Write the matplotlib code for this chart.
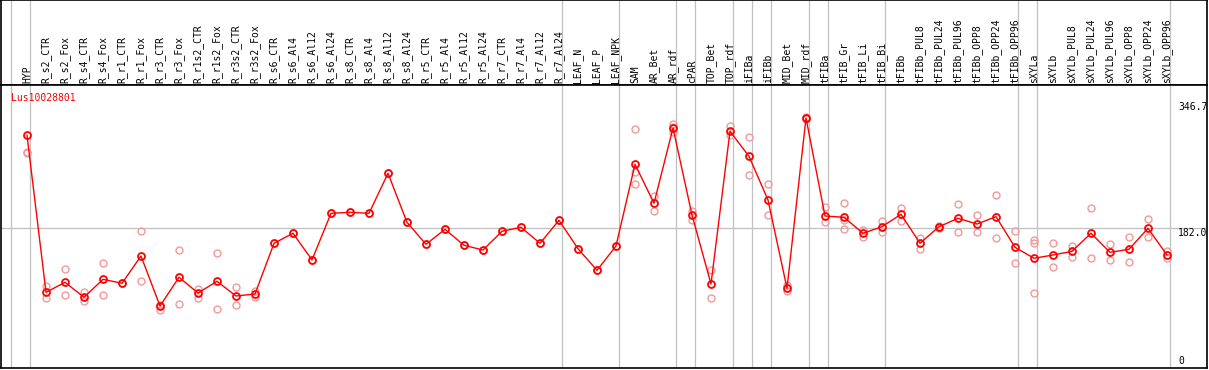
import matplotlib
matplotlib.use("Agg")
import matplotlib.pyplot as plt

samples = [
    "HYP", "R_s2_CTR", "R_s2_Fox", "R_s4_CTR", "R_s4_Fox", "R_r1_CTR", "R_r1_Fox",
    "R_r3_CTR", "R_r3_Fox", "R_r1s2_CTR", "R_r1s2_Fox", "R_r3s2_CTR", "R_r3s2_Fox",
    "R_s6_CTR", "R_s6_Al4", "R_s6_Al12", "R_s6_Al24", "R_s8_CTR", "R_s8_Al4",
    "R_s8_Al12", "R_s8_Al24", "R_r5_CTR", "R_r5_Al4", "R_r5_Al12", "R_r5_Al24",
    "R_r7_CTR", "R_r7_Al4", "R_r7_Al12", "R_r7_Al24", "LEAF_N", "LEAF_P", "LEAF_NPK",
    "SAM", "AR_Bet", "AR_rdf", "cPAR", "TOP_Bet", "TOP_rdf", "iFIBa", "iFIBb",
    "MID_Bet", "MID_rdf", "tFIBa", "tFIB_Gr", "tFIB_Li", "tFIB_Bi", "tFIBb",
    "tFIBb_PUL8", "tFIBb_PUL24", "tFIBb_PUL96", "tFIBb_OPP8", "tFIBb_OPP24",
    "tFIBb_OPP96", "sXYLa", "sXYLb", "sXYLb_PUL8", "sXYLb_PUL24", "sXYLb_PUL96",
    "sXYLb_OPP8", "sXYLb_OPP24", "sXYLb_OPP96",
]

means = [
    302.9, 97.6, 110.7, 91.1, 114.6, 109.4, 145.1, 79.7, 117.3, 96.7, 112.0, 92.8, 95.4,
    161.7, 174.8, 139.9, 200.9, 202.2, 200.9, 253.2, 189.1, 160.4, 180.0, 159.1, 152.9,
    177.4, 182.6, 161.7, 191.8, 154.6, 126.4, 158.2,
    265.0, 214.0, 312.4, 198.7, 108.5, 308.1, 275.4, 218.3, 102.9, 325.5,
    197.4, 195.7, 174.8, 183.4, 199.6, 161.7, 183.4, 194.4, 186.9, 196.5, 156.5,
    142.1, 146.4, 151.2, 174.8, 149.9, 153.9, 181.3, 146.4,
]

replicates = [
    [280.6, 279.6], [105.9, 89.8], [128.1, 93.7], [97.6, 86.3], [135.6, 94.1], [109.4],
    [177.4, 112.0], [74.5, 81.0], [152.5, 82.0], [102.4, 90.6], [148.6, 75.4],
    [104.2, 80.7], [99.7, 91.9],
    [161.7], [174.8], [139.9], [200.9], [202.2], [200.9], [253.2], [189.1], [160.4],
    [180.0], [159.1], [152.9], [177.4], [182.6], [161.7], [191.8], [154.6], [126.4],
    [158.2],
    [310.7, 255.3, 238.8], [223.5, 204.3], [318.0, 314.0, 307.0], [204.3, 192.2],
    [126.8, 89.8], [315.4, 303.3], [300.3, 250.6], [238.8, 198.7], [107.2, 99.3],
    [326.5, 324.5],
    [208.8, 189.9], [214.0, 192.2, 180.0], [179.1, 170.3], [191.2, 176.9],
    [207.8, 191.2], [169.0, 153.9], [184.5, 182.3], [212.7, 176.1], [198.3, 176.1],
    [224.4, 168.1], [177.4, 135.6],
    [166.0, 161.7, 96.3], [161.7, 130.3], [158.6, 144.2], [207.4, 142.1],
    [160.8, 139.5], [169.9, 136.9], [193.1, 169.5], [152.0, 142.1],
]

divider_after = [-1, 0, 28, 31, 34, 35, 37, 38, 39, 41, 42, 45, 52, 53, 60]
y_ticks = [346.7, 182.0, 0]
gene = "Lus10028801"

W, H = 1209, 370
fig = plt.figure(figsize=(W / 100, H / 100), dpi=100)

x0 = (1 - 27) / 19
x1 = (1207 - 27) / 19
ymin = (367 - 368) / 0.765
ymax = (367 - 85) / 0.765

hdr = fig.add_axes([1 / W, (H - 85) / H, 1206 / W, 85 / H])
ax = fig.add_axes([1 / W, (H - 368) / H, 1206 / W, 283 / H])

for a in (hdr, ax):
    a.set_xlim(x0, x1)
    a.set_xticks([])
    a.set_yticks([])
    for s in a.spines.values():
        s.set_color("black")
        s.set_linewidth(1.2)
    for d in divider_after:
        a.axvline(d + 0.18, color="#c0c0c0", lw=0.9, zorder=0)

hdr.set_ylim(0, 85)
for i, name in enumerate(samples):
    hdr.text(i, 2, name, rotation=90, ha="center", va="bottom",
             family="DejaVu Sans Mono", fontsize=7)

ax.set_ylim(ymin, ymax)
ax.axhline(182.0, color="#c0c0c0", lw=0.9, zorder=0)

xs = list(range(len(samples)))
for i, reps in enumerate(replicates):
    ax.plot([i] * len(reps), reps, "o", ms=5, mfc="none", mec="#f09a9a",
            mew=1.0, zorder=2)
ax.plot(xs, means, "-", color="red", lw=1.0, zorder=3)
ax.plot(xs, means, "o", ms=5, mfc="none", mec="red", mew=1.3, zorder=4)

ax.text(-0.85, 352, gene, color="red", fontsize=7, family="DejaVu Sans Mono",
        va="center", ha="left")

xl = (1178 - 27) / 19
for v, va in zip(y_ticks, ["top", "top", "bottom"]):
    label = "0" if v == 0 else f"{v:.1f}"
    ax.text(xl, v + (1.5 if v == 0 else 0), label, fontsize=7,
            family="DejaVu Sans Mono", va=va, ha="left")

fig.savefig("out.png", dpi=100)
